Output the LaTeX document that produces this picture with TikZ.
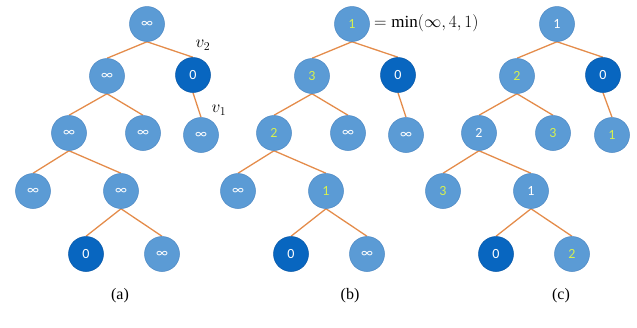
\documentclass[tikz,border=0pt]{standalone}
\usepackage{fontspec}
\usetikzlibrary{backgrounds}
\newfontfamily\nodefont{Carlito}
\setmainfont{Liberation Serif}
\definecolor{lightnode}{RGB}{91,155,213}
\definecolor{lightborder}{RGB}{75,135,195}
\definecolor{darknode}{RGB}{8,102,192}
\definecolor{darkborder}{RGB}{5,85,165}
\definecolor{edgeorange}{RGB}{228,140,75}
\definecolor{newval}{RGB}{214,240,80}
\tikzset{
  lnode/.style={circle, minimum size=35pt, inner sep=0pt, fill=lightnode, draw=lightborder, line width=0.5pt, text=white, font=\nodefont\fontsize{14}{14}\selectfont},
  dnode/.style={lnode, fill=darknode, draw=darkborder},
  upd/.style={text=newval},
  edge/.style={draw=edgeorange, line width=1.3pt},
  caption/.style={font=\fontsize{16}{16}\selectfont},
  mathlabel/.style={font=\fontsize{17}{17}\selectfont, inner sep=0pt}
}
\begin{document}
\begin{tikzpicture}[x=1pt,y=-1pt]
\useasboundingbox (0,0) rectangle (637,327);
% ---------- tree (a)
\node[lnode] (ar)  at (147,24)  {∞};
\node[lnode] (al1) at (107,76)  {∞};
\node[dnode] (ar1) at (193,75)  {0};
\node[lnode] (al2a) at (69,133) {∞};
\node[lnode] (al2b) at (143,133) {∞};
\node[lnode] (ar2) at (201,135) {∞};
\node[lnode] (al3a) at (33,191) {∞};
\node[lnode] (al3b) at (121,191) {∞};
\node[dnode] (al4a) at (86,254) {0};
\node[lnode] (al4b) at (162,254) {∞};
\node[mathlabel] (v2) at (203,45) {$v_2$};
\node[mathlabel] (v1) at (219,110) {$v_1$};
% ---------- tree (b)
\node[lnode,upd] (br)  at (352,24)  {1};
\node[lnode,upd] (bl1) at (312,76)  {3};
\node[dnode] (br1) at (398,75)  {0};
\node[lnode,upd] (bl2a) at (274,133) {2};
\node[lnode] (bl2b) at (348,133) {∞};
\node[lnode] (br2) at (406,135) {∞};
\node[lnode] (bl3a) at (238,191) {∞};
\node[lnode,upd] (bl3b) at (326,191) {1};
\node[dnode] (bl4a) at (291,254) {0};
\node[lnode] (bl4b) at (367,254) {∞};
\node[mathlabel, anchor=west] (minlbl) at (374,23) {$=\min(\infty,4,1)$};
% ---------- tree (c)
\node[lnode] (cr)  at (557,24)  {1};
\node[lnode,upd] (cl1) at (517,76)  {2};
\node[dnode] (cr1) at (603,75)  {0};
\node[lnode] (cl2a) at (479,133) {2};
\node[lnode,upd] (cl2b) at (553,133) {3};
\node[lnode,upd] (cr2) at (612,135) {1};
\node[lnode,upd] (cl3a) at (443,191) {3};
\node[lnode] (cl3b) at (531,191) {1};
\node[dnode] (cl4a) at (496,254) {0};
\node[lnode,upd] (cl4b) at (572,254) {2};
% ---------- captions
\node[caption] (capa) at (120,296) {(a)};
\node[caption] (capb) at (350,296) {(b)};
\node[caption] (capc) at (561,296) {(c)};
% ---------- edges
\begin{scope}[on background layer]
\foreach \t in {a,b,c}{
  \draw[edge] (\t r.south) -- (\t l1.north);
  \draw[edge] (\t r.south) -- (\t r1.north);
  \draw[edge] (\t l1.south) -- (\t l2a.north);
  \draw[edge] (\t l1.south) -- (\t l2b.north);
  \draw[edge] (\t r1.south) -- (\t r2.north);
  \draw[edge] (\t l2a.south) -- (\t l3a.north);
  \draw[edge] (\t l2a.south) -- (\t l3b.north);
  \draw[edge] (\t l3b.south) -- (\t l4a.north);
  \draw[edge] (\t l3b.south) -- (\t l4b.north);
}
\end{scope}
\end{tikzpicture}
\end{document}
